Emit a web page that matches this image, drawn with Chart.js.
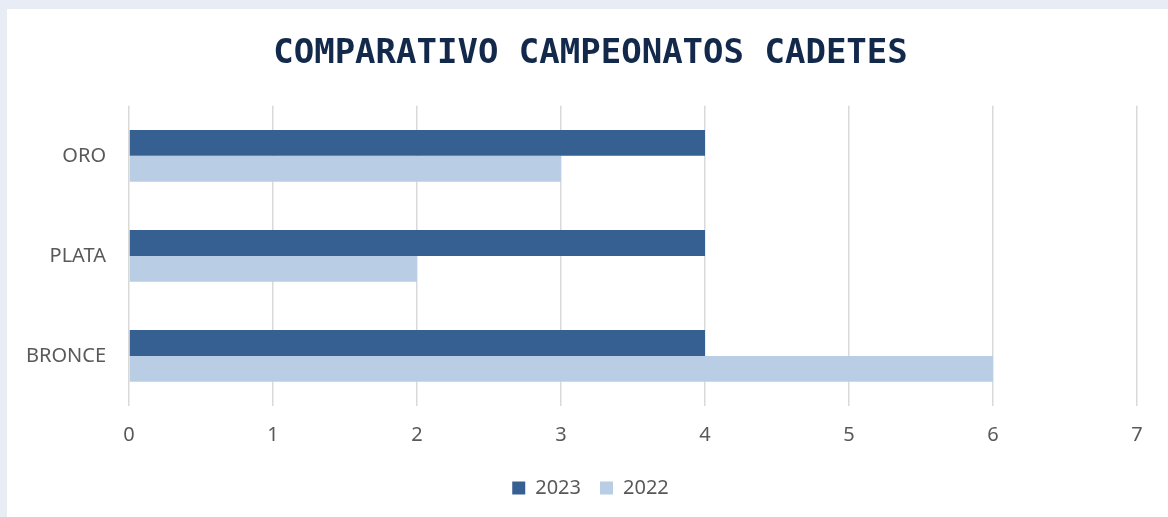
<!DOCTYPE html>
<html>
<head>
<meta charset="utf-8">
<script src="https://cdn.jsdelivr.net/npm/chart.js@4"></script>
<style>
  html, body { margin: 0; padding: 0; }
  body { width: 1168px; height: 517px; background: #e8ecf4; position: relative; overflow: hidden; }
  .panel { position: absolute; left: 7px; top: 9px; width: 1161px; height: 508px; background: #ffffff; }
</style>
</head>
<body>
<div class="panel"><canvas id="chart" width="1161" height="508"></canvas></div>
<script>
  var categories = ['ORO', 'PLATA', 'BRONCE'];
  var values2023 = [4, 4, 4];
  var values2022 = [3, 2, 6];
  var seriesNames = ['2023', '2022'];

  var labelFont = { family: "'Noto Sans', 'Open Sans', sans-serif", size: 20 };
  var labelColor = '#595959';

  // long category names must not be clipped by the narrow y axis box
  var unclipLabels = {
    id: 'unclipLabels',
    beforeDraw: function (chart) { chart.scales.y.left = 0; }
  };

  var ctx = document.getElementById('chart').getContext('2d');
  var chart = new Chart(ctx, {
    type: 'bar',
    data: {
      labels: categories,
      datasets: [
        { label: seriesNames[0], data: values2023, backgroundColor: '#365f92' },
        { label: seriesNames[1], data: values2022, backgroundColor: '#b9cde5' }
      ]
    },
    plugins: [unclipLabels],
    options: {
      indexAxis: 'y',
      responsive: false,
      animation: false,
      layout: { padding: { left: 37, right: 31, top: 0, bottom: 9 } },
      datasets: { bar: { categoryPercentage: 0.517, barPercentage: 1 } },
      plugins: {
        title: {
          display: true,
          text: 'COMPARATIVO CAMPEONATOS CADETES',
          color: '#13294b',
          font: { family: "'DejaVu Sans Mono', monospace", size: 34, weight: 'bold' },
          padding: { top: 25, bottom: 31 }
        },
        legend: {
          position: 'bottom',
          labels: {
            color: labelColor,
            font: labelFont,
            boxWidth: 13,
            boxHeight: 13,
            padding: 19
          }
        },
        tooltip: { enabled: false }
      },
      scales: {
        x: {
          min: 0,
          max: 7,
          ticks: { stepSize: 1, color: labelColor, font: labelFont, padding: 17 },
          grid: { color: '#d9d9d9', lineWidth: 1.5, drawTicks: false },
          border: { display: false },
          afterFit: function (scale) { scale.height = 53; }
        },
        y: {
          ticks: { color: labelColor, font: labelFont, padding: 23 },
          grid: { display: false, drawTicks: false },
          border: { display: false },
          afterFit: function (scale) { scale.width = 85; }
        }
      }
    }
  });
</script>
</body>
</html>
